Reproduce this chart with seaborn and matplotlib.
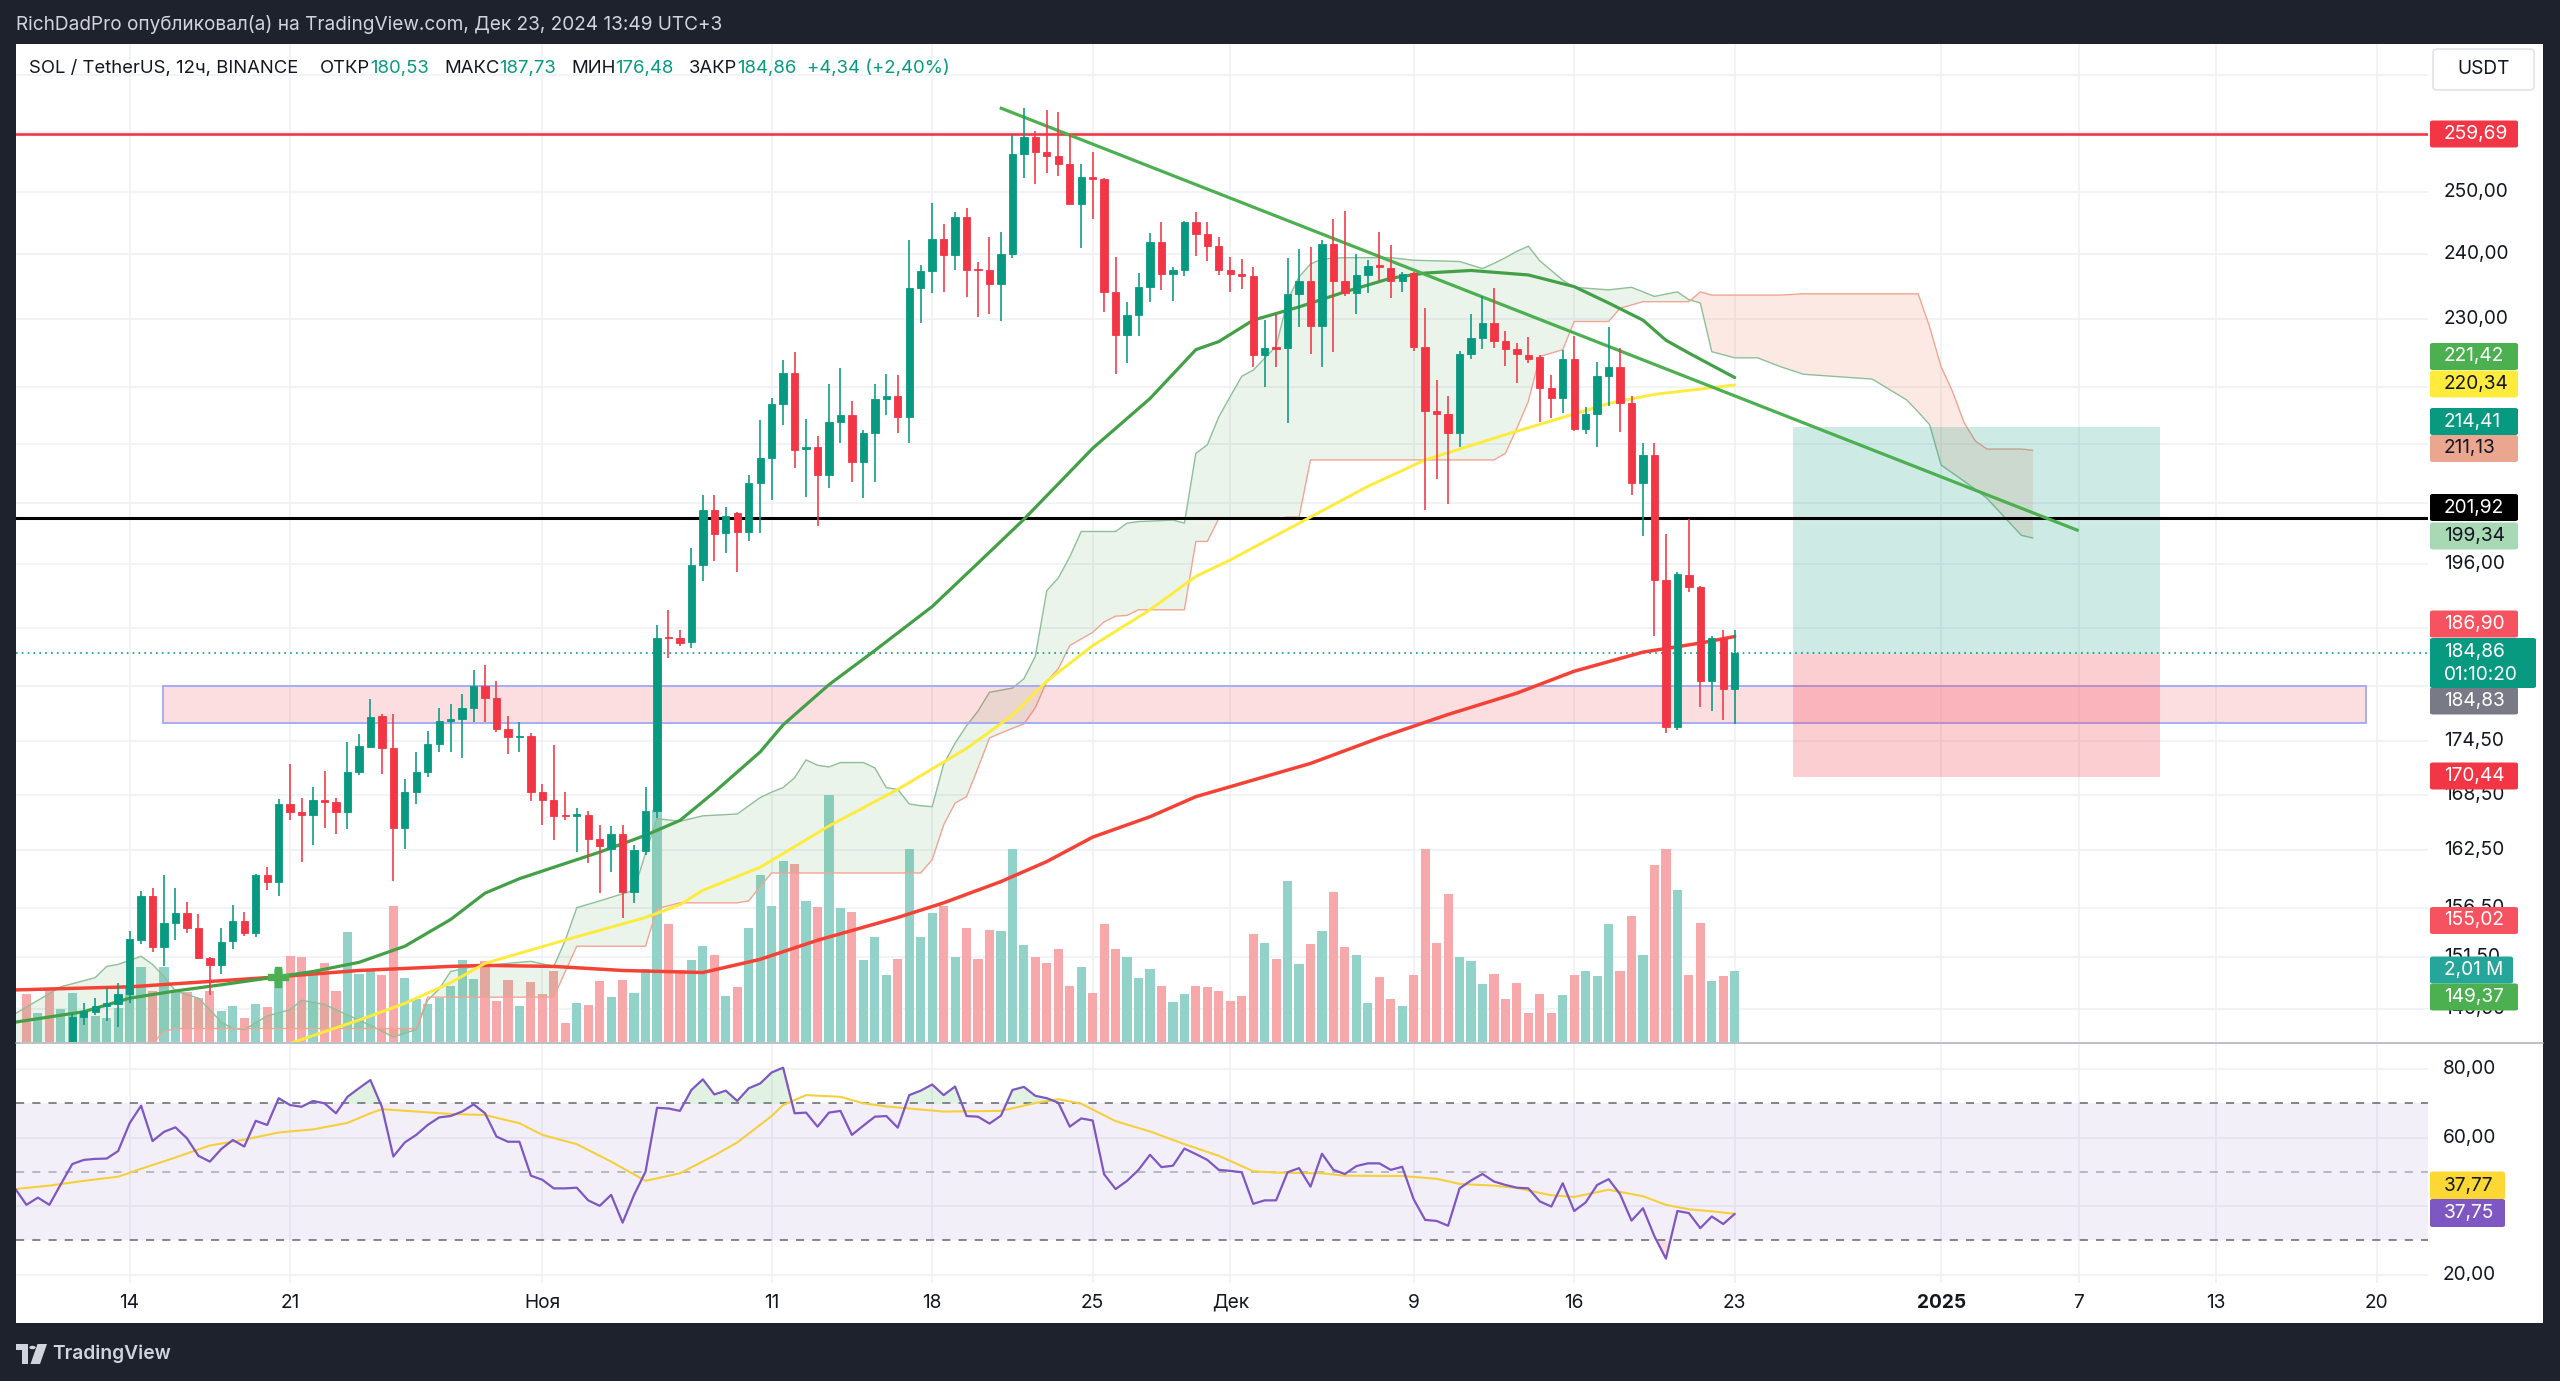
import numpy as np
import matplotlib
matplotlib.use("Agg")
import matplotlib.pyplot as plt
import matplotlib.transforms as mtransforms
from matplotlib.patches import Rectangle, FancyBboxPatch, Circle, Polygon
from matplotlib.lines import Line2D
from matplotlib.transforms import Bbox
import seaborn as sns

# ======================= DATA =======================
# SOL/USDT 12h candles (Binance). Bar index 0 = first bar of 11 Nov 2024.
bar_start = -65
opens = [
    141.5, 140.8, 141.9, 140.5, 142.8, 145.7, 146.2, 146.7, 146.9, 147.9,
    153.2, 157.7, 152.5, 154.9, 156.0, 154.4, 151.4, 150.7, 153.1, 155.1,
    153.9, 159.9, 159.2, 167.5, 166.6, 166.3, 167.9, 167.7, 166.6, 171.0,
    173.9, 177.4, 173.7, 164.9, 168.8, 171.0, 174.2, 176.8, 177.1, 178.4,
    180.9, 179.5, 175.9, 175.0, 175.1, 168.8, 167.9, 166.3, 166.2, 166.3,
    163.7, 162.6, 164.2, 158.1, 162.4, 166.7, 186.8, 186.7, 186.2, 195.9,
    203.1, 200.0, 202.6, 200.1, 206.6, 210.0, 217.6, 222.1, 211.3, 211.6,
    207.8, 215.1, 216.0, 209.5, 213.6, 218.4, 218.8, 215.8, 234.8, 237.4,
    242.4, 239.9, 246.0, 237.7, 237.5, 235.4, 240.0, 256.3, 259.2, 256.7,
    256.0, 254.7, 248.1, 252.5, 252.1, 234.1, 227.7, 230.7, 234.9, 241.9,
    237.0, 237.6, 245.1, 243.2, 241.4, 237.5, 236.9, 236.7, 224.7, 225.9,
    225.7, 233.8, 235.9, 229.0, 241.6, 235.8, 234.0, 236.8, 238.4, 237.9,
    235.9, 237.1, 225.9, 216.6, 216.2, 213.6, 224.8, 227.2, 229.5, 226.8,
    225.6, 224.7, 224.4, 219.9, 218.5, 224.1, 214.1, 216.2, 221.6, 223.0,
    217.7, 206.6, 210.5, 193.9, 176.1, 194.6, 193.0, 181.5, 186.7, 180.53]
highs = [
    142.2, 142.4, 142.6, 143.0, 146.1, 147.0, 147.5, 148.5, 149.0, 154.1,
    158.2, 158.5, 159.9, 158.5, 157.1, 155.9, 151.5, 154.4, 156.8, 156.1,
    160.0, 160.7, 168.0, 171.9, 168.1, 169.4, 171.1, 168.1, 174.4, 175.4,
    179.4, 177.7, 177.7, 170.3, 173.3, 175.7, 178.4, 178.8, 180.0, 182.9,
    183.4, 181.5, 177.4, 176.7, 175.5, 169.7, 174.1, 168.8, 167.1, 166.7,
    165.2, 165.1, 165.2, 163.1, 169.4, 188.3, 190.2, 187.7, 198.1, 205.0,
    205.0, 203.5, 202.8, 207.7, 215.4, 218.5, 224.0, 225.1, 215.5, 213.1,
    220.5, 222.8, 218.0, 214.0, 220.5, 222.0, 221.8, 242.3, 238.4, 248.3,
    244.8, 246.8, 247.4, 238.8, 242.8, 243.5, 259.5, 264.2, 260.2, 263.8,
    263.4, 259.7, 254.6, 256.7, 252.4, 239.6, 232.6, 237.1, 243.4, 245.2,
    238.1, 245.3, 246.7, 245.2, 242.8, 239.6, 239.3, 238.1, 229.9, 230.8,
    239.5, 240.9, 241.1, 242.3, 245.7, 246.9, 240.0, 239.1, 243.6, 241.5,
    237.3, 237.2, 231.7, 221.1, 218.7, 225.3, 230.8, 233.5, 234.8, 228.3,
    226.5, 227.4, 224.7, 221.8, 225.5, 227.5, 217.2, 223.7, 228.9, 225.7,
    218.7, 212.1, 212.2, 199.9, 194.9, 201.9, 193.2, 187.0, 187.7, 187.73]
lows = [
    140.3, 140.2, 139.8, 140.0, 142.3, 144.9, 145.9, 145.3, 144.7, 147.0,
    152.8, 152.0, 150.6, 153.2, 153.9, 151.3, 147.8, 149.9, 152.3, 153.6,
    153.5, 158.3, 157.7, 165.8, 161.2, 163.1, 164.9, 164.2, 164.8, 170.7,
    173.9, 170.8, 159.3, 162.6, 167.5, 170.5, 173.3, 173.3, 172.6, 176.7,
    176.7, 175.6, 173.1, 173.3, 167.8, 165.2, 163.6, 165.7, 162.3, 161.1,
    158.0, 160.2, 155.4, 157.0, 162.0, 166.0, 184.3, 185.8, 185.5, 193.8,
    196.4, 197.4, 195.0, 198.9, 200.0, 204.4, 214.6, 208.7, 204.8, 200.9,
    206.0, 212.2, 206.8, 204.6, 206.8, 216.1, 213.5, 212.1, 229.4, 234.0,
    234.2, 237.6, 233.4, 230.3, 230.9, 229.7, 239.5, 252.4, 251.4, 253.2,
    252.6, 248.0, 241.0, 245.7, 231.2, 221.9, 223.5, 227.6, 232.7, 234.5,
    232.8, 236.6, 239.7, 239.0, 236.8, 234.1, 234.6, 222.9, 220.0, 223.0,
    215.0, 228.9, 224.8, 223.0, 225.2, 233.6, 230.9, 234.0, 235.9, 233.2,
    234.1, 225.3, 203.1, 207.2, 203.9, 211.6, 224.2, 225.6, 225.8, 223.1,
    220.7, 223.6, 215.1, 215.7, 216.3, 213.8, 213.4, 211.6, 217.3, 213.7,
    205.0, 199.6, 187.0, 175.5, 175.8, 192.4, 178.5, 178.0, 177.0, 176.48]
closes = [
    140.8, 141.9, 140.5, 142.8, 145.7, 146.3, 146.7, 147.0, 147.9, 153.3,
    157.7, 152.5, 154.9, 156.0, 154.4, 151.4, 150.7, 153.0, 155.1, 153.9,
    159.9, 159.2, 167.5, 166.6, 166.3, 167.9, 167.7, 166.6, 171.0, 174.0,
    177.3, 173.7, 164.9, 168.8, 171.0, 174.2, 176.8, 177.1, 178.4, 180.9,
    179.5, 175.9, 175.0, 175.1, 168.8, 167.9, 166.2, 166.2, 166.35, 163.7,
    162.9, 164.2, 158.1, 162.5, 166.7, 186.7, 186.7, 186.1, 195.9, 203.1,
    199.9, 202.2, 200.1, 206.6, 210.0, 217.6, 222.1, 211.2, 211.6, 207.8,
    215.1, 216.0, 209.5, 213.6, 218.4, 218.8, 215.8, 234.8, 237.4, 242.4,
    239.9, 246.0, 237.5, 237.5, 235.4, 240.0, 256.3, 259.2, 256.7, 256.0,
    254.7, 248.1, 252.5, 252.1, 234.1, 227.7, 230.7, 234.9, 241.9, 237.0,
    237.6, 245.1, 243.3, 241.4, 237.5, 236.9, 236.7, 224.7, 225.7, 225.6,
    233.8, 235.9, 229.0, 241.6, 235.8, 234.0, 236.8, 238.2, 238.1, 235.9,
    236.9, 225.9, 216.6, 216.2, 213.6, 224.8, 227.2, 229.5, 226.8, 225.6,
    224.8, 224.2, 219.9, 218.5, 224.1, 214.1, 216.2, 221.6, 223.0, 217.8,
    206.6, 210.5, 193.9, 176.1, 194.7, 193.0, 181.5, 186.7, 180.53, 184.86]
volume_m = [
    1.35, 0.81, 1.52, 0.92, 1.38, 0.89, 0.75, 0.67, 0.95, 1.55,
    2.13, 1.45, 2.13, 1.42, 1.41, 1.25, 1.45, 0.88, 1.02, 0.69,
    1.08, 0.98, 2.08, 2.43, 2.41, 1.94, 2.25, 1.45, 3.10, 1.92,
    2.01, 1.90, 3.85, 1.82, 1.22, 1.07, 1.25, 1.58, 2.32, 1.78,
    2.30, 1.16, 1.75, 1.03, 1.69, 1.36, 2.01, 0.55, 1.10, 1.05,
    1.73, 1.28, 1.75, 1.38, 2.07, 6.57, 3.33, 2.04, 2.32, 2.72,
    2.46, 1.30, 1.57, 3.24, 4.73, 3.85, 5.12, 5.03, 3.99, 3.83,
    6.99, 3.80, 3.69, 2.32, 2.98, 1.90, 2.35, 5.46, 2.98, 3.66,
    3.86, 2.40, 3.24, 2.35, 3.17, 3.14, 5.46, 2.75, 2.41, 2.24,
    2.64, 1.59, 2.11, 1.40, 3.34, 2.62, 2.41, 1.80, 2.06, 1.59,
    1.14, 1.35, 1.59, 1.55, 1.45, 1.15, 1.29, 3.06, 2.81, 2.34,
    4.57, 2.20, 2.78, 3.13, 4.24, 2.69, 2.47, 1.11, 1.84, 1.23,
    1.02, 1.90, 5.47, 2.81, 4.20, 2.40, 2.28, 1.65, 1.92, 1.23,
    1.68, 0.82, 1.37, 0.82, 1.34, 1.89, 2.02, 1.87, 3.35, 2.02,
    3.56, 2.45, 5.00, 5.47, 4.31, 1.89, 3.38, 1.74, 1.87, 2.01]

rsi_start = -66
rsi_values = [
    45.2, 40.4, 42.5, 40.4, 46.4, 52.3, 53.5, 53.8, 53.9, 56.1,
    64.2, 69.3, 59.0, 61.7, 63.0, 59.8, 54.7, 53.0, 56.7, 59.3,
    57.4, 64.9, 63.7, 71.5, 69.5, 69.0, 70.7, 70.0, 67.1, 71.9,
    74.4, 76.8, 69.0, 54.5, 58.6, 60.8, 63.7, 65.9, 66.3, 67.6,
    69.7, 67.1, 60.3, 58.8, 58.8, 48.9, 47.7, 45.2, 45.2, 45.4,
    41.7, 40.1, 43.3, 35.2, 43.3, 50.1, 68.7, 68.5, 67.8, 73.9,
    77.0, 72.6, 73.7, 70.7, 74.4, 75.8, 79.0, 80.4, 67.1, 67.3,
    63.2, 67.3, 67.8, 60.8, 63.5, 66.1, 66.3, 62.9, 72.4, 73.7,
    75.5, 72.4, 74.9, 66.3, 66.1, 64.1, 66.4, 73.9, 74.8, 72.2,
    71.5, 70.2, 63.2, 65.6, 65.0, 49.3, 45.0, 47.4, 50.6, 55.0,
    51.4, 51.8, 56.8, 55.2, 53.5, 50.6, 50.3, 49.9, 40.7, 41.7,
    41.7, 49.9, 51.1, 45.7, 55.3, 50.6, 49.4, 51.7, 52.5, 52.5,
    50.6, 51.5, 42.0, 36.0, 35.7, 34.3, 45.2, 47.5, 49.4, 47.2,
    46.2, 45.4, 45.2, 41.4, 39.9, 46.7, 38.6, 41.1, 46.2, 47.9,
    43.5, 35.8, 39.4, 31.2, 24.7, 38.6, 38.0, 33.6, 37.0, 34.8,
    37.75]
rsi_ma_idx = [-66, -63, -60, -57, -55, -52, -49, -46, -43, -40,
              -37, -35, -34, -31, -28, -25, -22, -20, -17, -14,
              -11, -8, -5, -3, 0, 1, 3, 6, 8, 10,
              15, 20, 23, 25, 27, 30, 33, 36, 39, 42,
              44, 48, 50, 55, 58, 60, 63, 65, 68, 70,
              73, 76, 78, 80, 82, 84]
rsi_ma_values = [45.0, 46.0, 47.4, 48.6, 50.9, 54.2, 57.7, 59.4, 61.5, 62.4,
                 64.3, 67.1, 68.3, 67.6, 66.9, 66.6, 64.2, 60.8, 58.1, 53.0,
                 47.4, 49.6, 54.8, 58.6, 66.3, 69.5, 72.4, 71.9, 70.0, 69.1,
                 67.6, 67.8, 70.1, 71.2, 69.9, 64.8, 61.8, 58.1, 54.7, 50.2,
                 49.8, 49.6, 48.9, 48.8, 48.0, 46.5, 46.0, 45.3, 43.2, 42.7,
                 44.8, 42.9, 40.4, 39.1, 38.5, 37.77]

ma_green_idx = [-66, -60, -56, -52, -48, -43, -40, -36, -32, -28, -25, -22, -19, -15, -11,
                -8, -5, -1, 1, 5, 9, 14, 18, 22, 28, 33, 37, 39, 42, 46, 50, 54, 57, 61,
                66, 70, 73, 76, 78, 80, 84]
ma_green = [145.2, 146.2, 147.5, 148.2, 148.8, 149.6, 150.1, 151.0, 152.6, 155.3, 158.0,
            159.5, 160.7, 162.3, 164.1, 165.7, 168.8, 173.3, 176.4, 181.1, 185.2, 190.6,
            196.1, 201.8, 211.4, 218.4, 225.5, 226.7, 229.9, 231.9, 234.2, 236.3, 237.1,
            237.5, 236.8, 235.0, 232.5, 229.9, 226.9, 225.0, 221.42]
ma_yellow_idx = [-46, -42, -36, -32, -28, -25, -19, -15, -11, -8, -6, -1, 5, 11, 17,
                 21, 24, 28, 33, 37, 40, 47, 52, 57, 64, 70, 73, 77, 84]
ma_yellow = [141.5, 143.2, 145.4, 147.0, 149.0, 150.9, 152.9, 154.2, 155.5, 156.8, 158.3,
             160.7, 165.1, 169.1, 173.7, 177.5, 181.5, 185.8, 190.2, 194.4, 196.5, 202.1,
             206.2, 209.8, 213.3, 216.2, 217.7, 219.0, 220.34]
ma_red_idx = [-66, -56, -44, -36, -28, -25, -19, -13, -6, -1, 4, 11, 15, 20, 24, 28,
              33, 37, 40, 47, 53, 59, 65, 70, 76, 81, 84]
ma_red = [148.3, 148.6, 149.5, 150.2, 150.6, 150.7, 150.6, 150.2, 150.0, 151.3, 153.2,
          155.5, 157.0, 159.2, 161.3, 163.9, 166.1, 168.3, 169.4, 172.0, 174.9, 177.6,
          180.1, 182.7, 185.0, 186.1, 186.9]

cloud_idx = [-66, -62, -59, -58, -57, -55, -54, -53, -52, -50,
             -49, -48, -47, -46, -44, -42, -41, -39, -35, -33,
             -31, -30, -29, -28, -26, -21, -19, -18, -17, -15,
             -12, -11, -10, -8, -6, -3, -2, -1, 0, 1,
             2, 3, 4, 5, 6, 8, 9, 10, 11, 12,
             13, 14, 15, 16, 17, 18, 19, 21, 22, 23,
             24, 25, 26, 27, 28, 29, 30, 31, 32, 35,
             36, 37, 38, 39, 40, 41, 42, 44, 45, 46,
             47, 48, 50, 54, 56, 60, 62, 63, 64, 65,
             66, 67, 68, 69, 70, 73, 74, 75, 76, 77,
             79, 80, 81, 82, 84, 86, 88, 90, 96, 99,
             100, 101, 102, 103, 104, 105, 106, 109, 110]
span_a = [146.0, 148.6, 149.5, 150.6, 150.8, 151.6, 150.8, 149.6, 148.2, 147.5,
          146.4, 145.2, 144.6, 144.5, 145.8, 146.4, 147.3, 146.9, 144.9, 143.8,
          144.5, 147.3, 148.4, 150.1, 150.6, 151.1, 150.6, 153.2, 156.5, 157.2,
          158.3, 162.2, 165.9, 165.6, 166.2, 166.4, 167.3, 168.2, 168.8, 169.3,
          170.4, 172.4, 171.8, 171.6, 172.1, 172.1, 171.5, 169.3, 169.1, 167.5,
          167.3, 167.2, 171.9, 174.3, 176.3, 178.0, 180.2, 180.7, 181.8, 184.5,
          192.6, 194.2, 196.9, 200.2, 200.2, 200.2, 200.2, 201.3, 201.5, 201.7,
          201.3, 210.7, 211.9, 215.8, 218.7, 221.6, 222.5, 226.0, 232.9, 236.5,
          238.5, 239.3, 239.5, 239.5, 239.1, 238.9, 237.8, 238.6, 239.5, 240.5,
          241.3, 239.0, 237.5, 236.0, 234.9, 234.5, 234.7, 234.9, 234.2, 233.5,
          234.2, 233.0, 232.5, 225.2, 224.3, 224.3, 223.0, 221.9, 221.2, 218.2,
          216.5, 214.7, 209.1, 208.0, 206.9, 205.8, 204.6, 199.7, 199.34]
span_b = [140.0, 140.0, 140.0, 140.0, 140.0, 140.5, 143.2, 144.3, 144.6, 144.6,
          144.6, 144.6, 144.6, 144.6, 144.6, 144.6, 144.6, 144.6, 144.6, 144.6,
          144.6, 147.6, 147.6, 147.6, 147.6, 147.6, 147.6, 150.1, 152.6, 152.6,
          152.6, 152.6, 156.4, 157.0, 157.0, 157.0, 157.2, 158.7, 160.1, 160.1,
          160.1, 160.1, 160.1, 160.1, 160.1, 160.1, 160.1, 160.1, 160.1, 160.1,
          160.1, 161.5, 165.2, 167.6, 168.3, 171.5, 174.9, 176.0, 176.5, 178.4,
          181.5, 183.0, 185.8, 186.6, 187.4, 188.7, 189.4, 189.5, 190.2, 190.2,
          190.2, 198.9, 198.9, 201.9, 201.9, 201.9, 201.9, 201.9, 202.1, 202.1,
          209.8, 209.8, 209.8, 209.8, 209.8, 209.8, 209.8, 209.8, 210.7, 214.2,
          218.0, 224.5, 225.0, 225.5, 229.7, 229.7, 231.7, 232.2, 232.7, 232.7,
          232.7, 232.7, 234.2, 233.7, 233.7, 233.7, 233.7, 233.9, 233.9, 233.9,
          233.9, 228.9, 223.0, 219.4, 215.0, 212.4, 211.3, 211.3, 211.13]

trend_idx = [19.9, 114.0]
trend_price = [264.2, 200.3]
resistance_level = 259.69
support_level = 201.92
last_close = 184.86
zone_idx = [-53.06, 139.1]
zone_price = [176.6, 180.9]
position_idx = [89.1, 121.1]
position_entry, position_target, position_stop = 184.83, 214.41, 170.44
cross_idx, cross_price = -43.1, 149.6

date_idx = [-56, -42, -20, 0, 14, 28, 40, 56, 70, 84, 102, 114, 126, 140]
date_labels = ["14", "21", "Ноя", "11", "18", "25", "Дек", "9", "16", "23", "2025", "7", "13", "20"]
# price grid levels; labels are printed only for the levels that the scale shows
price_grid = [270, 260, 250, 240, 230, 220, 212, 204, 196, 188, 181, 174.5, 168.5, 162.5,
              156.5, 151.5, 146.5]
price_tick_labels = [250, 240, 230, 204, 196, 174.5, 168.5, 162.5, 156.5, 151.5, 146.5]
rsi_grid = [80, 60, 40, 20]
rsi_tick_labels = [80, 60, 20]

header_text = "RichDadPro опубликовал(а) на TradingView.com, Дек 23, 2024 13:49 UTC+3"
legend_symbol = "SOL / TetherUS, 12ч, BINANCE"
legend_names = ["ОТКР", "МАКС", "МИН", "ЗАКР"]
legend_values = ["180,53", "187,73", "176,48", "184,86"]
legend_change = "+4,34 (+2,40%)"

# ======================= STYLE / LAYOUT =======================
W, H, DPI = 2560, 1381, 100
UP, DN = "#089981", "#f23645"
VOL_UP, VOL_DN = "#93d2c9", "#f7a8ab"
TXT = "#131722"
GRID = "#eef0f4"
BG_DARK = "#1e222d"

PLOT_L, PLOT_R = 16, 2428
PRICE_T, PRICE_B = 44, 1042
RSI_T, RSI_B = 1043, 1283
PANEL_R, PANEL_B = 2543, 1323
XMIN, XMAX = -65.91, 144.47
PMIN, PMAX = 143.33, 275.45
RMIN, RMAX = 17.6, 87.6
VOL_TOP = 28.25

sns.set_theme(style="white")
plt.rcParams["font.family"] = ["Inter", "DejaVu Sans"]

fig = plt.figure(figsize=(W / DPI, H / DPI), dpi=DPI, facecolor=BG_DARK)
renderer = fig.canvas.get_renderer()


def fx(px):
    return px / W


def fy(py):
    return 1.0 - py / H


def rect_px(x0, y0, x1, y1, **kw):
    return Rectangle((fx(x0), fy(y1)), (x1 - x0) / W, (y1 - y0) / H,
                     transform=fig.transFigure, **kw)


def measure(s, size, weight="normal"):
    t = fig.text(0, 0, s, fontsize=size, fontweight=weight)
    w = t.get_window_extent(renderer=renderer).width
    t.remove()
    return w


def fit_size(s, target, weight="normal"):
    return 20.0 * target / measure(s, 20.0, weight)


# white chart panel
fig.add_artist(rect_px(16, 44, PANEL_R, PANEL_B, facecolor="white", edgecolor="none", zorder=-10))

rect_price = [fx(PLOT_L), fy(PRICE_B), (PLOT_R - PLOT_L) / W, (PRICE_B - PRICE_T) / H]
axg = fig.add_axes(rect_price, label="grid")
axv = fig.add_axes(rect_price, label="volume")
ax = fig.add_axes(rect_price, label="price")
for a, z in ((axg, 0), (axv, 1), (ax, 2)):
    a.set_zorder(z)
    a.set_axis_off()
    a.set_xlim(XMIN, XMAX)
for a in (axg, ax):
    a.set_yscale("log")
    a.set_ylim(PMIN, PMAX)
axv.set_ylim(0, VOL_TOP)

# grid
for p in price_grid:
    axg.axhline(p, color=GRID, lw=1.1)
for d in date_idx:
    axg.axvline(d, color=GRID, lw=1.1)

x = np.arange(bar_start, bar_start + len(opens))
o, h, l, c = (np.array(v, float) for v in (opens, highs, lows, closes))
up = c >= o
col = np.where(up, UP, DN)

# volume
axv.bar(x, volume_m, width=0.8, color=np.where(up, VOL_UP, VOL_DN), linewidth=0)

# Ichimoku cloud
ci = np.array(cloud_idx, float)
sa = np.array(span_a, float)
sb = np.array(span_b, float)
ax.fill_between(ci, sa, sb, where=sa >= sb, interpolate=True, color="#43a047", alpha=0.11, lw=0, zorder=1)
ax.fill_between(ci, sa, sb, where=sa < sb, interpolate=True, color="#f4511e", alpha=0.12, lw=0, zorder=1)
ax.plot(ci, sa, color="#8fbf98", lw=1.0, zorder=2)
ax.plot(ci, sb, color="#f2a493", lw=1.0, zorder=2)

# zone rectangle
ax.add_patch(Rectangle((zone_idx[0], zone_price[0]), zone_idx[1] - zone_idx[0],
                       zone_price[1] - zone_price[0], facecolor="#f23645", alpha=0.16,
                       edgecolor="none", zorder=2))
ax.add_patch(Rectangle((zone_idx[0], zone_price[0]), zone_idx[1] - zone_idx[0],
                       zone_price[1] - zone_price[0], facecolor="none",
                       edgecolor="#9fa8f5", lw=1.3, zorder=2))

# long position tool
ax.add_patch(Rectangle((position_idx[0], position_entry), position_idx[1] - position_idx[0],
                       position_target - position_entry, facecolor=UP, alpha=0.2,
                       edgecolor="none", zorder=2))
ax.add_patch(Rectangle((position_idx[0], position_stop), position_idx[1] - position_idx[0],
                       position_entry - position_stop, facecolor=DN, alpha=0.24,
                       edgecolor="none", zorder=2))

# horizontal levels
ax.axhline(resistance_level, color="#f23645", lw=1.9, zorder=3)
ax.axhline(support_level, color="#000000", lw=2.2, zorder=3)
ax.axhline(last_close, color=UP, lw=1.2, ls=(0, (1, 2.5)), zorder=3)

# moving averages (seaborn)
sns.lineplot(x=ma_red_idx, y=ma_red, ax=ax, color="#f44336", linewidth=2.5, legend=False, zorder=4)
sns.lineplot(x=ma_yellow_idx, y=ma_yellow, ax=ax, color="#ffeb3b", linewidth=2.1, legend=False, zorder=4)
sns.lineplot(x=ma_green_idx, y=ma_green, ax=ax, color="#43a047", linewidth=2.3, legend=False, zorder=4)

# trend line
ax.plot(trend_idx, trend_price, color="#4caf50", lw=2.3, zorder=4, solid_capstyle="butt")

# cross marker
ax.plot([cross_idx], [cross_price], marker="P", ms=15, color="#4caf50", mec="#4caf50", zorder=5)

# candles
ax.vlines(x, l, h, colors=col, lw=1.15, zorder=6)
lo = np.minimum(o, c)
hi = np.maximum(o, c)
ax.bar(x, hi - lo, bottom=lo, width=0.64, color=col, edgecolor=col, linewidth=0.6, zorder=7)

for a in (ax, axv, axg):
    a.set_xlabel("")
    a.set_ylabel("")
    a.set_xlim(XMIN, XMAX)
ax.set_ylim(PMIN, PMAX)

# ---------------- RSI pane ----------------
axr = fig.add_axes([fx(PLOT_L), fy(RSI_B), (PLOT_R - PLOT_L) / W, (RSI_B - RSI_T) / H], label="rsi")
axr.set_axis_off()
axr.set_xlim(XMIN, XMAX)
axr.set_ylim(RMIN, RMAX)
for v in rsi_grid:
    axr.axhline(v, color=GRID, lw=1.1, zorder=0)
for d in date_idx:
    axr.axvline(d, color=GRID, lw=1.1, zorder=0)
axr.axhspan(30, 70, color="#7e57c2", alpha=0.09, lw=0, zorder=1)
axr.axhline(70, color="#787b86", lw=1.3, dashes=(4.5, 4.5), zorder=2)
axr.axhline(50, color="#b2b5be", lw=1.3, dashes=(4.5, 4.5), zorder=2)
axr.axhline(30, color="#787b86", lw=1.3, dashes=(4.5, 4.5), zorder=2)
rx = np.arange(rsi_start, rsi_start + len(rsi_values))
rv = np.array(rsi_values, float)
axr.fill_between(rx, 70, rv, where=rv > 70, interpolate=True, color="#4caf50", alpha=0.16, lw=0, zorder=2)
axr.fill_between(rx, 30, rv, where=rv < 30, interpolate=True, color="#f23645", alpha=0.16, lw=0, zorder=2)
sns.lineplot(x=rsi_ma_idx, y=rsi_ma_values, ax=axr, color="#f5d03c", linewidth=1.5, legend=False, zorder=3)
sns.lineplot(x=rx, y=rv, ax=axr, color="#7e57c2", linewidth=1.6, legend=False, zorder=4)
axr.set_xlabel("")
axr.set_ylabel("")
axr.set_xlim(XMIN, XMAX)
axr.set_ylim(RMIN, RMAX)

# pane separator
fig.add_artist(Line2D([fx(16), fx(PANEL_R)], [fy(1042.5), fy(1042.5)], transform=fig.transFigure,
                      color="#b2b5be", lw=1.2, zorder=5))

# ---------------- text ----------------
FS = fit_size("250,00", 65)

# price scale tick labels
tr_p = mtransforms.blended_transform_factory(fig.transFigure, ax.transData)
clip_price = Bbox([[PLOT_R, H - PRICE_B], [PANEL_R, H - PRICE_T]])
for p in price_tick_labels:
    t = ax.text(fx(2444), p, f"{p:.2f}".replace(".", ","), transform=tr_p, fontsize=FS,
                color=TXT, va="center", ha="left", clip_on=True)
    t.set_clip_box(clip_price)

tr_r = mtransforms.blended_transform_factory(fig.transFigure, axr.transData)
clip_rsi = Bbox([[PLOT_R, H - 1281], [PANEL_R, H - RSI_T]])
for v in rsi_tick_labels:
    t = axr.text(fx(2443), v, f"{v:.2f}".replace(".", ","), transform=tr_r, fontsize=FS,
                 color=TXT, va="center", ha="left", clip_on=True)
    t.set_clip_box(clip_rsi)

# date labels
tr_d = mtransforms.blended_transform_factory(axr.transData, fig.transFigure)
for d, s in zip(date_idx, date_labels):
    axr.text(d, fy(1303), s, transform=tr_d, fontsize=FS, color=TXT, ha="center", va="center",
             fontweight="bold" if s == "2025" else "normal", clip_on=False)


def label_box(yc, text, bg, fg, x1=2518, h=27):
    fig.add_artist(FancyBboxPatch((fx(2430), fy(yc + h / 2)), (x1 - 2430) / W, h / H,
                                  boxstyle="round,pad=0,rounding_size=0.0012",
                                  transform=fig.transFigure, facecolor=bg, edgecolor="none",
                                  zorder=20))
    fig.text(fx(2444), fy(yc), text, fontsize=FS, color=fg, va="center", ha="left", zorder=21)


label_box(134, "259,69", "#f23645", "white")
label_box(356.5, "221,42", "#4caf50", "white")
label_box(384, "220,34", "#ffeb3b", TXT)
label_box(421.5, "214,41", "#089981", "white")
label_box(448.5, "211,13", "#eba690", TXT)
label_box(507.5, "201,92", "#000000", "white")
label_box(536, "199,34", "#a8d8b4", TXT)
label_box(624, "186,90", "#f7525f", "white")
label_box(701, "184,83", "#787b86", "white")
label_box(776, "170,44", "#f23645", "white")
label_box(920.5, "155,02", "#f7525f", "white")
label_box(970, "2,01 M", "#26a69a", "white", x1=2513)
label_box(997, "149,37", "#4caf50", "white")
label_box(1185.5, "37,77", "#fdd835", TXT, x1=2505, h=28)
label_box(1213, "37,75", "#7e57c2", "white", x1=2505, h=28)
# current price two-line label
fig.add_artist(FancyBboxPatch((fx(2430), fy(688)), (2536 - 2430) / W, 50 / H,
                              boxstyle="round,pad=0,rounding_size=0.0012",
                              transform=fig.transFigure, facecolor=UP, edgecolor="none", zorder=20))
fig.text(fx(2444), fy(652), "184,86", fontsize=FS, color="white", va="center", ha="left", zorder=21)
fig.text(fx(2444), fy(675), "01:10:20", fontsize=FS, color="white", va="center", ha="left", zorder=21)

# USDT box
fig.add_artist(FancyBboxPatch((fx(2433), fy(90)), (2534 - 2433) / W, 41 / H,
                              boxstyle="round,pad=0,rounding_size=0.002",
                              transform=fig.transFigure, facecolor="white", edgecolor="#e0e3eb",
                              lw=1.2, zorder=20))
fig.text(fx(2483.5), fy(69.5), "USDT", fontsize=FS, color=TXT, ha="center", va="center", zorder=21)

# header
FS_H = fit_size(header_text, 707)
fig.text(fx(16), fy(24.5), header_text, fontsize=FS_H, color="#d1d4dc", ha="left", va="center")

# legend row
gaps = [22, 15, 15, 15, 10]
pieces = [legend_symbol]
for n, v in zip(legend_names, legend_values):
    pieces += [n, v]
pieces.append(legend_change)
nat = sum(measure(s, 20.0) for s in pieces)
FS_L = 20.0 * (922 - sum(gaps)) / nat
xc = 29.0
yc = 68.6
fig.text(fx(xc), fy(yc), legend_symbol, fontsize=FS_L, color=TXT, ha="left", va="center", zorder=21)
xc += measure(legend_symbol, FS_L) + gaps[0]
for k, (n, v) in enumerate(zip(legend_names, legend_values)):
    fig.text(fx(xc), fy(yc), n, fontsize=FS_L, color=TXT, ha="left", va="center", zorder=21)
    xc += measure(n, FS_L)
    fig.text(fx(xc), fy(yc), v, fontsize=FS_L, color=UP, ha="left", va="center", zorder=21)
    xc += measure(v, FS_L) + gaps[k + 1]
fig.text(fx(xc), fy(yc), legend_change, fontsize=FS_L, color=UP, ha="left", va="center", zorder=21)

# TradingView footer logo
fig.add_artist(rect_px(16, 1344, 28, 1350, facecolor="#d1d4dc", edgecolor="none"))
fig.add_artist(rect_px(22, 1344, 28, 1364, facecolor="#d1d4dc", edgecolor="none"))
fig.add_artist(Circle((fx(32.5), fy(1347.5)), 3.2 / W, transform=fig.transFigure,
                      facecolor="#d1d4dc", edgecolor="none"))
fig.add_artist(Polygon([(fx(37.5), fy(1344)), (fx(47), fy(1344)), (fx(40), fy(1364)), (fx(30.5), fy(1364))],
                       closed=True, transform=fig.transFigure, facecolor="#d1d4dc", edgecolor="none"))
FS_T = fit_size("TradingView", 119, "semibold")
fig.text(fx(52), fy(1354), "TradingView", fontsize=FS_T, fontweight="semibold", color="#d1d4dc",
         ha="left", va="center")

fig.savefig("out.png", dpi=DPI, facecolor=BG_DARK)
